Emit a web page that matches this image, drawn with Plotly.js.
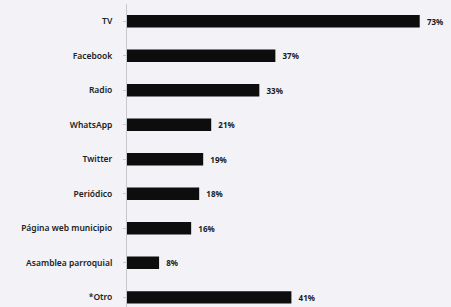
<!DOCTYPE html>
<html><head><meta charset="utf-8">
<script src="https://cdn.plot.ly/plotly-3.0.1.min.js"></script>
<style>html,body{margin:0;padding:0;background:#f3f3f7;}</style>
</head><body>
<div id="chart" style="width:451px;height:307px;"></div>
<script>
const categories = ["TV","Facebook","Radio","WhatsApp","Twitter","Periódico","Página web municipio","Asamblea parroquial","*Otro"];
const values = [73,37,33,21,19,18,16,8,41];
const valueLabels = ["73%","37%","33%","21%","19%","18%","16%","8%","41%"];

const trace = {
  type: 'bar', orientation: 'h',
  x: values, y: categories,
  text: valueLabels, texttemplate: '\u00a0\u00a0%{text}',
  textposition: 'outside', cliponaxis: false,
  textfont: {family: 'Noto Sans', size: 8, color: '#1a1a1a', weight: 'bold'},
  marker: {color: '#0d0d0d'},
  width: 0.36,
  hoverinfo: 'none'
};
const layout = {
  width: 451, height: 307,
  margin: {l: 127, r: 0, t: 4, b: 0},
  paper_bgcolor: '#f3f3f7', plot_bgcolor: '#f3f3f7',
  showlegend: false,
  xaxis: {range: [0, 80.8], visible: false, fixedrange: true},
  yaxis: {
    type: 'category', categoryorder: 'array', categoryarray: categories,
    range: [8.28, -0.5],
    showgrid: false, zeroline: false,
    showline: true, linecolor: '#c8c8cc', linewidth: 1,
    ticks: 'outside', ticklen: 3, tickcolor: '#c8c8cc',
    ticklabelstandoff: 9,
    tickfont: {family: 'Noto Sans', size: 8.5, color: '#222', weight: 600}
  },
  font: {family: 'Noto Sans'}
};
Plotly.newPlot('chart', [trace], layout, {staticPlot: true, displayModeBar: false});
</script>
</body></html>
